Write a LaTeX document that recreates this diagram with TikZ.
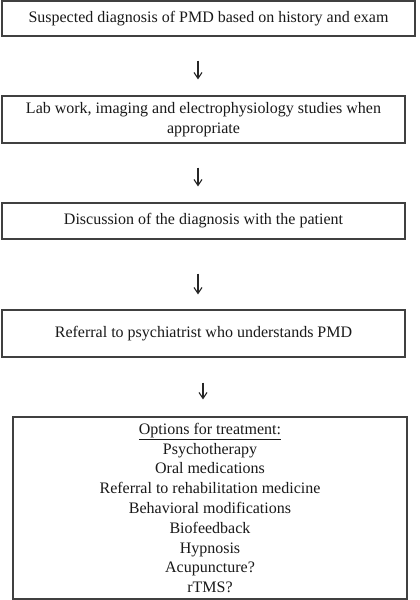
\documentclass[tikz,border=0pt]{standalone}
\usepackage{fontspec}
\setmainfont{Liberation Serif}
\usetikzlibrary{arrows.meta}
\begin{document}
\begin{tikzpicture}[x=1pt,y=-1pt,
  stepbox/.style={draw=black!75, line width=1.1pt, rectangle, inner sep=0pt, align=center,
    font=\fontsize{16}{19.8}\selectfont, text=black!90},
  arr/.style={draw=black!85, line width=1.1pt, -{Straight Barb[length=6pt,width=8pt,line width=1.1pt]}}]
\useasboundingbox (0,0) rectangle (420,600);
\fill[white] (0,0) rectangle (420,600);
\node[stepbox, minimum width=413pt, minimum height=35pt] (b1) at (208.5,18.5)
  {Suspected diagnosis of PMD based on history and exam};
\node[stepbox, minimum width=403pt, minimum height=47pt] (b2) at (203.5,119.5)
  {Lab work, imaging and electrophysiology studies when\\appropriate};
\node[stepbox, minimum width=403pt, minimum height=36pt] (b3) at (203.5,221)
  {Discussion of the diagnosis with the patient};
\node[stepbox, minimum width=403pt, minimum height=47pt] (b4) at (203.5,333.5)
  {Referral to psychiatrist who understands PMD};
\node[stepbox, minimum width=394pt, minimum height=182pt] (b5) at (210,508)
  {\underline{Options for treatment:}\\Psychotherapy\\Oral medications\\Referral to rehabilitation medicine\\Behavioral modifications\\Biofeedback\\Hypnosis\\Acupuncture?\\rTMS?};
\coordinate (ax) at (198,0);
\coordinate (ay) at (203,0);
\draw[arr, shorten <=24pt, shorten >=16pt] (b1.south -| ax) -- (b2.north -| ax);
\draw[arr, shorten <=24pt, shorten >=16pt] (b2.south -| ax) -- (b3.north -| ax);
\draw[arr, shorten <=34pt, shorten >=15pt] (b3.south -| ax) -- (b4.north -| ax);
\draw[arr, shorten <=25pt, shorten >=17pt] (b4.south -| ay) -- (b5.north -| ay);
\end{tikzpicture}
\end{document}
